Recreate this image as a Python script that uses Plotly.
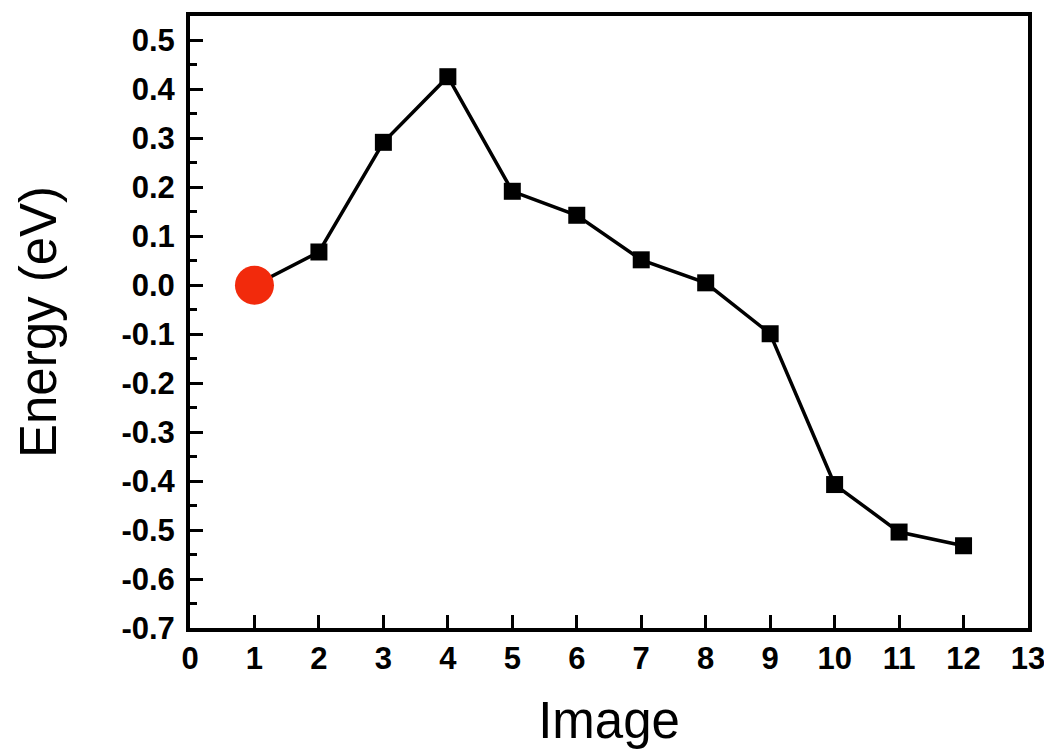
import plotly.graph_objects as go

images = [1, 2, 3, 4, 5, 6, 7, 8, 9, 10, 11, 12]
energy = [0.0, 0.068, 0.292, 0.426, 0.192, 0.143, 0.052, 0.005, -0.099, -0.407, -0.504, -0.532]

x_ticks = list(range(0, 14))
y_ticks = [round(-0.7 + 0.1 * i, 1) for i in range(13)]
y_labels = [f"{v:.1f}" for v in y_ticks]

fig = go.Figure()
fig.add_trace(go.Scatter(x=images, y=energy, mode="lines",
                         line=dict(color="black", width=3.5), showlegend=False))
fig.add_trace(go.Scatter(x=images[1:], y=energy[1:], mode="markers",
                         marker=dict(symbol="square", size=17, color="black"),
                         showlegend=False))
fig.add_trace(go.Scatter(x=images[:1], y=energy[:1], mode="markers",
                         marker=dict(symbol="circle", size=39, color="#f22a0c"),
                         showlegend=False))

axis_font = dict(family="Liberation Sans, Arial, sans-serif", size=31, color="black")
title_font = dict(family="Liberation Sans, Arial, sans-serif", size=51, color="black")

fig.update_layout(
    width=1052, height=752,
    margin=dict(l=182, r=32, t=4, b=132),
    paper_bgcolor="white", plot_bgcolor="white",
    font=dict(family="Liberation Sans, Arial, sans-serif"),
)
fig.update_xaxes(
    range=[0, 13], tickvals=x_ticks, ticktext=[f"<b>{v}</b>" for v in x_ticks],
    ticks="inside", ticklen=13, tickwidth=3, tickcolor="black",
    showline=True, linecolor="black", linewidth=4, mirror=True,
    showgrid=False, zeroline=False, tickfont=axis_font,
    title=dict(text="Image", font=title_font, standoff=28),
)
fig.update_yaxes(
    range=[-0.7, 0.55], tickvals=y_ticks, ticktext=[f"<b>{s}</b>" for s in y_labels],
    ticks="inside", ticklen=13, tickwidth=3, tickcolor="black",
    minor=dict(ticks="inside", ticklen=7, tickwidth=3, tickcolor="black", dtick=0.05, tick0=0),
    showline=True, linecolor="black", linewidth=4, mirror=True,
    showgrid=False, zeroline=False, tickfont=axis_font, ticklabelstandoff=5,
    title=dict(text="Energy (eV)", font=title_font, standoff=50),
)

fig.write_html("out.html")
